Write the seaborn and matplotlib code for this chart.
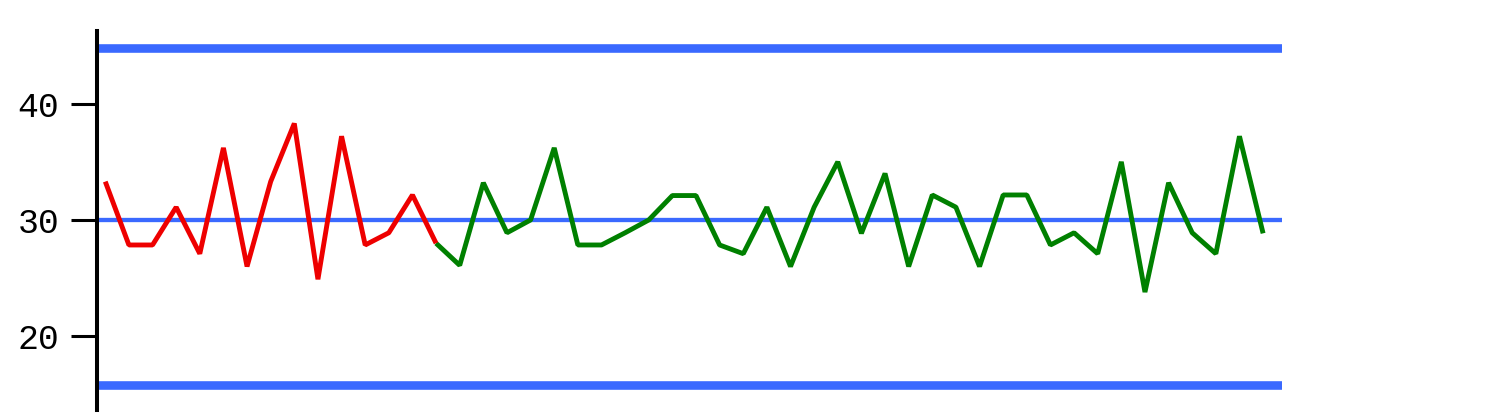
import pandas as pd
import seaborn as sns
import matplotlib
matplotlib.use("Agg")
import matplotlib.pyplot as plt

# values
red_vals = [33.3, 27.85, 27.85, 31.1, 27.1, 36.2, 26.0, 33.3, 38.3, 24.9,
            37.2, 27.85, 28.9, 32.15, 28.0]
green_vals = [28.0, 26.1, 33.2, 28.9, 30.0, 36.2, 27.85, 27.85, 28.9, 30.0,
              32.1, 32.1, 27.85, 27.1, 31.1, 26.0, 31.1, 35.0, 28.85, 34.0,
              26.0, 32.15, 31.1, 26.0, 32.15, 32.15, 27.85, 28.9, 27.1, 35.0,
              23.8, 33.2, 28.9, 27.1, 37.2, 28.85]
center = 30.0
ucl = 44.83
lcl = 15.81
yticks = [20, 30, 40]

red_df = pd.DataFrame({"i": range(len(red_vals)), "v": red_vals})
start = len(red_vals) - 1
green_df = pd.DataFrame({"i": range(start, start + len(green_vals)), "v": green_vals})

sns.set_style("white")
plt.rcParams['font.family'] = ['Liberation Mono', 'DejaVu Sans Mono']

fig = plt.figure(figsize=(15.1, 4.2), dpi=100)
ax = fig.add_axes([97 / 1510, 10 / 420, 1185 / 1510, 379 / 420])

blue = "#3a69ff"
ax.axhline(ucl, color=blue, lw=6.2, solid_capstyle="butt", zorder=1)
ax.axhline(lcl, color=blue, lw=6.2, solid_capstyle="butt", zorder=1)
ax.axhline(center, color=blue, lw=3.1, solid_capstyle="butt", zorder=1)

sns.lineplot(data=green_df, x="i", y="v", ax=ax, color="#008000", lw=3.5,
             solid_joinstyle="bevel", solid_capstyle="butt", zorder=2)
sns.lineplot(data=red_df, x="i", y="v", ax=ax, color="#ee0000", lw=3.5,
             solid_joinstyle="bevel", solid_capstyle="butt", zorder=3)

ax.set_xlim(-0.35, 49.8)
ax.set_ylim(13.66, 46.25)
ax.set_yticks(yticks)
ax.set_xticks([])
ax.set_xlabel("")
ax.set_ylabel("")
for s in ["top", "right", "bottom"]:
    ax.spines[s].set_visible(False)
ax.spines["left"].set_linewidth(2.9)
ax.spines["left"].set_color("black")
ax.tick_params(axis="y", left=True, length=18.7, width=2.2, pad=8.5,
               labelsize=25, colors="black")

fig.savefig("out.png", dpi=100)
